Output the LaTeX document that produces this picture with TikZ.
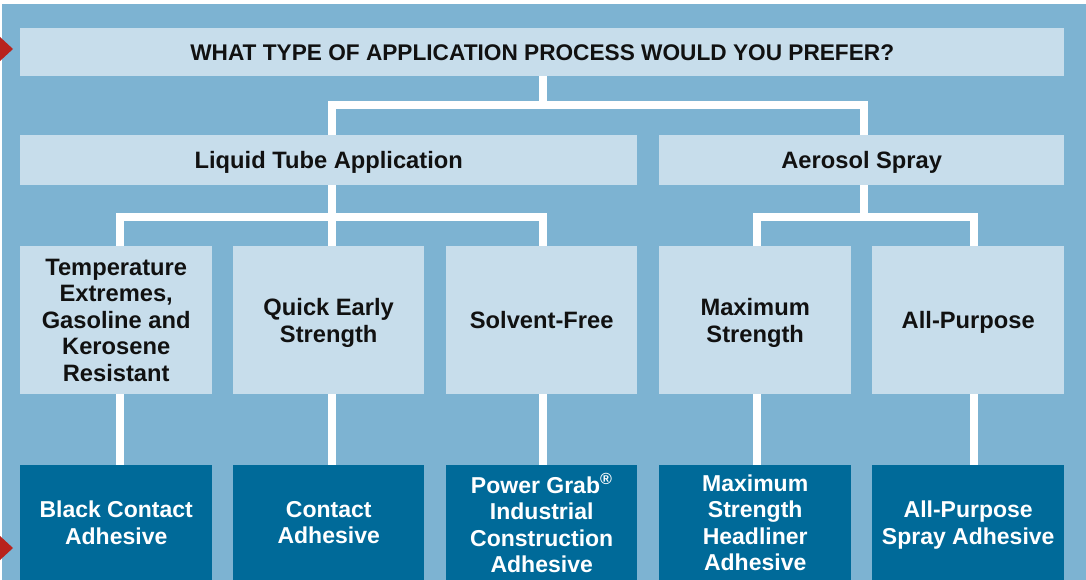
\documentclass[tikz,border=0pt]{standalone}
\usepackage{fontspec}
\setmainfont{Liberation Sans}
\definecolor{bgblue}{HTML}{7DB3D2}
\definecolor{lightbox}{HTML}{C7DDEB}
\definecolor{darkbox}{HTML}{006A99}
\definecolor{redmark}{HTML}{B8231D}
\definecolor{txt}{HTML}{111111}
\tikzset{
  lbox/.style={fill=lightbox, draw=none, inner sep=0pt, anchor=north west, align=center, text=txt,
    text depth=0pt, font=\fontsize{23.7}{26.5}\selectfont\bfseries},
  dbox/.style={fill=darkbox, draw=none, inner sep=0pt, anchor=north west, align=center, text=white,
    text depth=0pt, font=\fontsize{23}{26.5}\selectfont\bfseries},
  conn/.style={draw=white, line width=8pt, line join=miter},
  marker/.style={fill=redmark, draw=none}
}
\begin{document}
\begin{tikzpicture}[x=1pt,y=-1pt]
\useasboundingbox (0,0) rectangle (1086,580);
\fill[bgblue] (2,4) rectangle (1086,580);
\coordinate (bus1) at (543,105);
\coordinate (bus2) at (543,217);
% nodes
\node[lbox, minimum width=1044pt, minimum height=48pt, font=\fontsize{22.65}{26}\selectfont\bfseries] (top) at (20,28) {WHAT TYPE OF APPLICATION PROCESS WOULD YOU PREFER?};
\node[lbox, minimum width=617pt, minimum height=50pt] (liquid) at (20,135) {Liquid Tube Application};
\node[lbox, minimum width=405pt, minimum height=50pt] (aero) at (659,135) {Aerosol Spray};
\node[lbox, minimum width=192pt, minimum height=148pt] (t1) at (20,246) {Temperature\\Extremes,\\Gasoline and\\Kerosene\\Resistant};
\node[lbox, minimum width=191pt, minimum height=148pt] (q2) at (233,246) {Quick Early\\Strength};
\node[lbox, minimum width=191pt, minimum height=148pt] (s3) at (446,246) {Solvent-Free};
\node[lbox, minimum width=192pt, minimum height=148pt] (m4) at (659,246) {Maximum\\Strength};
\node[lbox, minimum width=192pt, minimum height=148pt] (a5) at (872,246) {All-Purpose};
\node[dbox, minimum width=192pt, minimum height=115pt] (b1) at (20,465) {Black Contact\\Adhesive};
\node[dbox, minimum width=191pt, minimum height=115pt] (b2) at (233,465) {Contact\\Adhesive};
\node[dbox, minimum width=191pt, minimum height=115pt] (b3) at (446,465) {Power Grab\textsuperscript{®}\\Industrial\\Construction\\Adhesive};
\node[dbox, minimum width=192pt, minimum height=115pt] (b4) at (659,465) {Maximum\\Strength\\Headliner\\Adhesive};
\node[dbox, minimum width=192pt, minimum height=115pt] (b5) at (872,465) {All-Purpose\\Spray Adhesive};
% connectors
\draw[conn] ([xshift=1pt]top.south) -- ([xshift=1pt]top.south |- bus1);
\draw[conn] ([xshift=3.5pt]liquid.north) |- ([xshift=2.5pt]aero.north |- bus1) -- ([xshift=2.5pt]aero.north);
\draw[conn] ([xshift=3.5pt]liquid.south) -- ([xshift=3.5pt]q2.north);
\draw[conn] ([xshift=4pt]t1.north) |- ([xshift=1.5pt]s3.north |- bus2) -- ([xshift=1.5pt]s3.north);
\draw[conn] ([xshift=2.5pt]aero.south) -- ([xshift=2.5pt]aero.south |- bus2);
\draw[conn] ([xshift=2pt]m4.north) |- ([xshift=6pt]a5.north |- bus2) -- ([xshift=6pt]a5.north);
\draw[conn] ([xshift=4pt]t1.south) -- ([xshift=4pt]b1.north);
\draw[conn] ([xshift=3.5pt]q2.south) -- ([xshift=3.5pt]b2.north);
\draw[conn] ([xshift=1.5pt]s3.south) -- ([xshift=1.5pt]b3.north);
\draw[conn] ([xshift=2pt]m4.south) -- ([xshift=2pt]b4.north);
\draw[conn] ([xshift=6pt]a5.south) -- ([xshift=6pt]b5.north);
% red markers
\fill[marker] (0,37) -- (13,49) -- (0,61) -- cycle;
\fill[marker] (0,536) -- (13,548) -- (0,560) -- cycle;
\end{tikzpicture}
\end{document}
